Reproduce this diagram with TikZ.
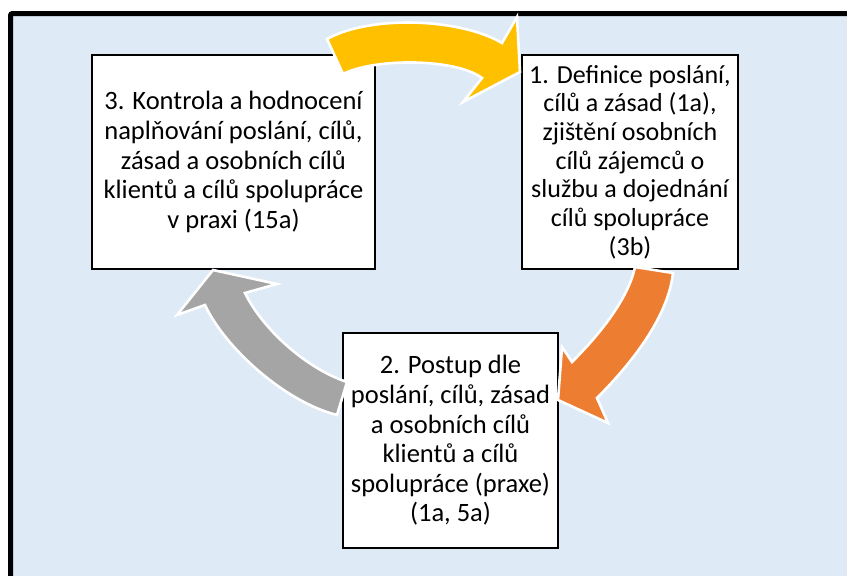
\documentclass[tikz,border=0pt]{standalone}
\usepackage{fontspec}
\setmainfont{Carlito}
\definecolor{bgblue}{RGB}{222,234,246}
\definecolor{ayellow}{RGB}{255,192,0}
\definecolor{aorange}{RGB}{237,125,49}
\definecolor{agray}{RGB}{165,165,165}
\tikzset{
  stepbox/.style={draw=black, fill=white, line width=1.4pt, align=center,
    inner sep=2pt, font=\fontsize{26.5}{29.6}\selectfont},
  cyclearrow/.style={draw=white, line width=2.6pt, line join=miter, fill=#1},
}
\begin{document}
\begin{tikzpicture}[x=1pt,y=-1pt]
\useasboundingbox (0,0) rectangle (847,576);
% frame
\draw[line width=5pt, fill=bgblue, rounded corners=2pt] (10.5,13.5) rectangle (880,620);
% boxes
\node[stepbox, minimum width=283pt, minimum height=214pt] (n3) at (233.5,162)
  {3. Kontrola a hodnocení\\naplňování poslání, cílů,\\zásad a osobních cílů\\klientů a cílů spolupráce\\v praxi (15a)};
\node[stepbox, minimum width=216pt, minimum height=214pt, font=\fontsize{26}{28.7}\selectfont] (n1) at (630,162)
  {1. Definice poslání,\\cílů a zásad (1a),\\zjištění osobních\\cílů zájemců o\\službu a dojednání\\cílů spolupráce\\(3b)};
\node[stepbox, minimum width=215pt, minimum height=215pt] (n2) at (450.5,440.5)
  {2. Postup dle\\poslání, cílů, zásad\\a osobních cílů\\klientů a cílů\\spolupráce (praxe)\\(1a, 5a)};
% arrows
\path[cyclearrow=ayellow] (327,39) .. controls (370,15) and (460,18) .. (502,43)
  -- (517,17) -- (520,72) -- (463,102) -- (482,78)
  .. controls (455,58) and (375,58) .. (343,74) -- cycle;
\path[cyclearrow=aorange] (673,273) .. controls (668,318) and (630,365) .. (597,398)
  -- (608,423) -- (558,400) -- (562,347) -- (572,362)
  .. controls (598,336) and (628,300) .. (635,267) -- cycle;
\path[cyclearrow=agray] (337,415) .. controls (285,402) and (225,348) .. (205,305)
  -- (177,315) -- (213,270) -- (277,284) -- (245,293)
  .. controls (262,328) and (305,368) .. (347,382) -- cycle;
\end{tikzpicture}
\end{document}
